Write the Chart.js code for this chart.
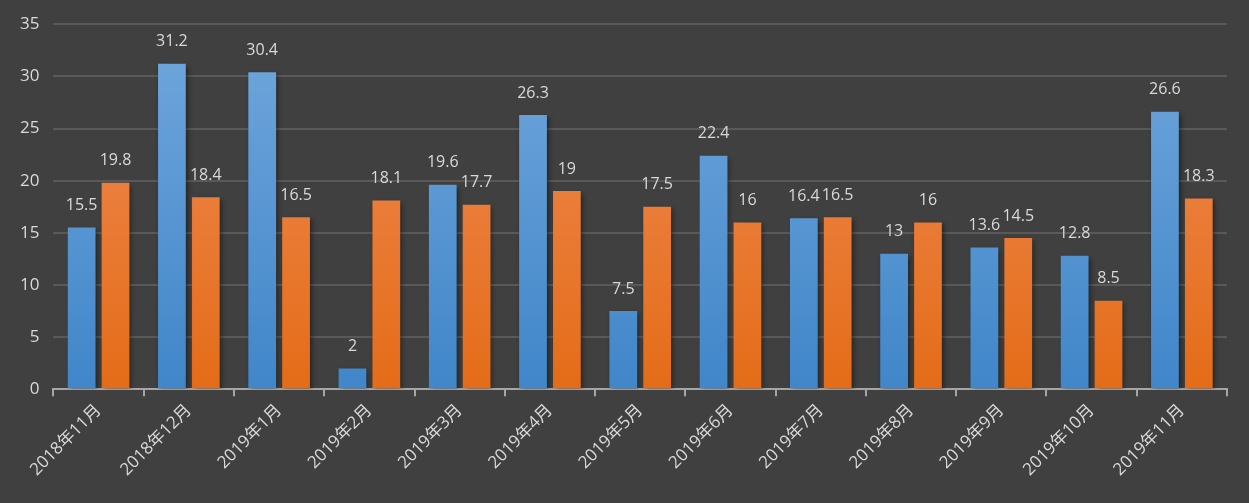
<!DOCTYPE html>
<html>
<head>
<meta charset="utf-8">
<script src="https://cdn.jsdelivr.net/npm/chart.js@4.4.1/dist/chart.umd.min.js"></script>
<style>
  html, body { margin: 0; padding: 0; background: #404040; }
  #wrap { width: 1249px; height: 503px; }
</style>
</head>
<body>
<div id="wrap"><canvas id="barChart"></canvas></div>
<script>
const months = ['2018年11月', '2018年12月', '2019年1月', '2019年2月', '2019年3月', '2019年4月', '2019年5月',
                '2019年6月', '2019年7月', '2019年8月', '2019年9月', '2019年10月', '2019年11月'];
const blueValues = [15.5, 31.2, 30.4, 2, 19.6, 26.3, 7.5, 22.4, 16.4, 13, 13.6, 12.8, 26.6];
const orangeValues = [19.8, 18.4, 16.5, 18.1, 17.7, 19, 17.5, 16, 16.5, 16, 14.5, 8.5, 18.3];
const yMax = 35;
const yStep = 5;

const FONT = "'Open Sans', 'Noto Sans CJK SC', sans-serif";

// vertical gradient that spans the whole bar height
function barGradient(top, bottom) {
    return function (context) {
        const chart = context.chart;
        const area = chart.chartArea;
        if (!area) return bottom;
        const el = context.element;
        const y0 = el && el.y != null ? el.y : area.top;
        const g = chart.ctx.createLinearGradient(0, y0, 0, area.bottom);
        g.addColorStop(0, top);
        g.addColorStop(1, bottom);
        return g;
    };
}

// soft drop shadow behind the bars
const barShadow = {
    id: 'barShadow',
    beforeDatasetDraw(chart) {
        const ctx = chart.ctx;
        ctx.save();
        ctx.shadowColor = 'rgba(0,0,0,0.45)';
        ctx.shadowBlur = 5;
        ctx.shadowOffsetX = 2;
        ctx.shadowOffsetY = 2;
    },
    afterDatasetDraw(chart) {
        chart.ctx.restore();
    }
};

// value labels above each bar
const valueLabels = {
    id: 'valueLabels',
    afterDatasetsDraw(chart) {
        const ctx = chart.ctx;
        ctx.save();
        ctx.font = '16px ' + FONT;
        ctx.fillStyle = '#d9d9d9';
        ctx.textAlign = 'center';
        ctx.textBaseline = 'middle';
        chart.data.datasets.forEach(function (ds, i) {
            chart.getDatasetMeta(i).data.forEach(function (bar, j) {
                ctx.fillText(String(ds.data[j]), bar.x, bar.y - 22);
            });
        });
        ctx.restore();
    }
};

const ctx = document.getElementById('barChart').getContext('2d');
const barChart = new Chart(ctx, {
    type: 'bar',
    data: {
        labels: months,
        datasets: [{
            data: blueValues,
            backgroundColor: barGradient('#72a7dd', '#4086c9'),
            categoryPercentage: 0.75,
            barPercentage: 0.82
        }, {
            data: orangeValues,
            backgroundColor: barGradient('#f08c58', '#e46c18'),
            categoryPercentage: 0.75,
            barPercentage: 0.82
        }]
    },
    options: {
        responsive: true,
        maintainAspectRatio: false,
        animation: false,
        layout: { padding: { top: 14, right: 22, left: 6, bottom: 19 } },
        plugins: {
            legend: { display: false },
            tooltip: { enabled: false }
        },
        scales: {
            x: {
                grid: {
                    display: true,
                    offset: true,
                    drawOnChartArea: false,
                    drawTicks: true,
                    tickLength: 7,
                    color: '#a6a6a6',
                    lineWidth: 2
                },
                border: { display: true, color: '#a6a6a6', width: 2 },
                ticks: {
                    color: '#d9d9d9',
                    font: { family: FONT, size: 17 },
                    minRotation: 45,
                    maxRotation: 45,
                    autoSkip: false,
                    padding: 4
                }
            },
            y: {
                min: 0,
                max: yMax,
                ticks: {
                    stepSize: yStep,
                    color: '#d9d9d9',
                    font: { family: FONT, size: 17 },
                    padding: 14
                },
                grid: {
                    color: '#595959',
                    lineWidth: 2,
                    drawTicks: false
                },
                border: { display: false }
            }
        }
    },
    plugins: [barShadow, valueLabels]
});
</script>
</body>
</html>
